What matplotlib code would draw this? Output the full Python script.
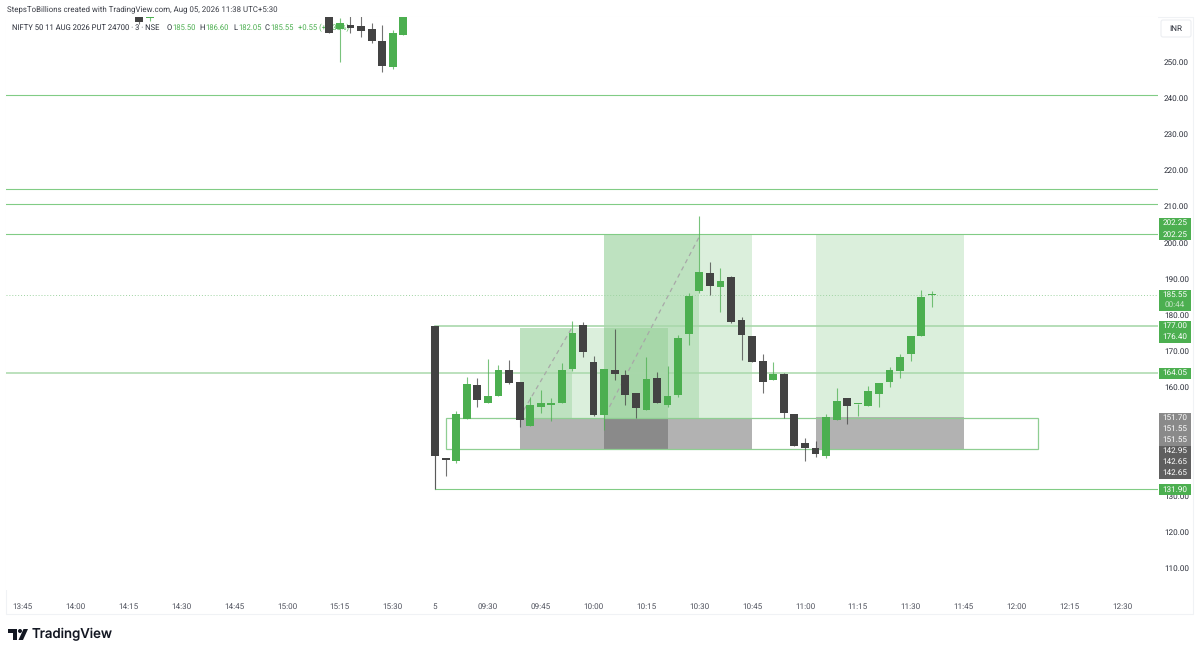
import numpy as np
import matplotlib
matplotlib.use("Agg")
import matplotlib.pyplot as plt
from matplotlib.patches import Rectangle, FancyBboxPatch, Polygon, Circle
from matplotlib.transforms import Affine2D

# ---------- data ----------
bar_index = [11, 12, 29, 30, 31, 32, 33, 34, 35, 36] + list(range(39, 87))
opens = [263.0, 262.0, 266.0, 258.9, 260.1, 259.8, 258.9, 255.75, 248.6, 257.2,
         176.94, 140.4, 139.7, 151.3, 160.7, 155.75, 157.6, 164.7, 161.5, 149.3,
         154.65, 155.2, 155.75, 165.0, 177.1, 167.0, 152.4, 164.7, 163.4, 158.4,
         153.7, 162.6, 155.2, 157.8, 174.7, 186.6, 191.5,
         187.7, 190.4, 178.6, 174.3, 167.3, 161.9, 163.7, 152.6, 144.6, 143.2,
         141.1, 151.0, 157.1, 155.3, 154.95, 158.15, 161.6, 164.5, 169.3, 174.1, 185.5]
closes = [261.0, 262.6, 258.0, 260.5, 259.2, 258.4, 255.75, 248.75, 258.0, 262.5,
          141.0, 139.9, 152.6, 160.9, 156.5, 157.5, 164.7, 161.2, 150.9, 155.1,
          155.65, 155.65, 164.9, 175.0, 169.7, 152.4, 165.05, 163.7, 157.9, 154.3,
          162.4, 155.75, 157.5, 173.7, 185.3, 191.85, 188.1,
          189.4, 178.05, 174.5, 167.1, 161.6, 163.7, 153.0, 143.9, 143.1, 141.7,
          151.9, 156.2, 154.9, 155.45, 158.9, 161.3, 164.7, 168.5, 174.3, 184.85, 185.55]
highs = [263.5, 262.8, 268.0, 262.0, 262.5, 262.5, 260.7, 260.1, 258.7, 262.5,
         177.0, 140.5, 153.5, 162.8, 162.5, 167.8, 166.2, 167.5, 161.5, 157.2,
         159.2, 157.1, 166.6, 178.4, 178.0, 168.6, 165.05, 176.1, 164.8, 158.4,
         168.3, 164.2, 165.9, 174.5, 186.0, 207.3, 194.6,
         192.9, 190.8, 179.5, 174.3, 169.2, 167.1, 163.9, 152.6, 146.1, 145.2,
         152.6, 159.9, 157.1, 155.5, 160.4, 161.3, 165.5, 169.1, 174.3, 186.8, 186.6]
lows = [260.4, 261.3, 258.0, 249.8, 257.8, 256.85, 255.0, 247.2, 247.9, 257.2,
        131.9, 135.6, 139.0, 151.3, 154.5, 155.75, 157.6, 161.0, 149.1, 149.3,
        153.0, 150.8, 155.75, 164.4, 168.5, 152.2, 148.2, 162.0, 155.0, 151.4,
        153.7, 155.75, 154.5, 157.2, 171.7, 186.0, 185.5,
        180.7, 177.9, 167.5, 167.1, 158.5, 161.9, 151.6, 143.9, 139.55, 140.85,
        140.6, 151.0, 149.9, 152.1, 154.95, 154.65, 160.2, 162.65, 167.4, 174.1, 182.05]

price_ticks = [250, 240, 230, 220, 210, 200, 190, 180, 170, 160, 130, 120, 110]
time_ticks = [0, 5, 10, 15, 20, 25, 30, 35, 39, 44, 49, 54, 59, 64, 69, 74, 79, 84, 89, 94, 99, 104]
time_labels = ['13:45', '14:00', '14:15', '14:30', '14:45', '15:00', '15:15', '15:30', '5',
               '09:30', '09:45', '10:00', '10:15', '10:30', '10:45', '11:00', '11:15',
               '11:30', '11:45', '12:00', '12:15', '12:30']

full_lines = [240.8, 214.8, 210.5, 202.25]
soft_line = 164.05
last_price = 185.55
box_top = 177.0
box_low = 131.9
range_box = (40, 96, 142.95, 151.55)
green_zones = [(47, 61, 151.55, 176.4), (47, 52, 151.55, 176.4),
               (55, 69, 151.55, 202.25), (55, 64, 151.55, 202.25),
               (75, 89, 151.7, 202.25)]
grey_zones = [(47, 61, 142.65, 151.55), (55, 69, 142.95, 151.55), (75, 89, 142.65, 151.7)]
dash_x = [(47.4, 52), (55.5, 64)]
dash_y = [(153.7, 176.7), (154.6, 201.6)]

green_tags = ['202.25', '202.25', '185.55', '00:44', '177.00', '176.40', '164.05', '131.90']
grey_tags = ['151.70', '151.55', '151.55']
dark_tags = ['142.95', '142.65', '142.65']

# ---------- style ----------
W, H = 1200, 654
GREEN = '#4caf50'
DARK = '#434343'
LINE = '#81cc85'
FS = 5.9
LFS = 5.5
plt.rcParams['font.family'] = 'Roboto'
plt.rcParams['text.hinting'] = 'no_hinting'

fig = plt.figure(figsize=(W / 100, H / 100), dpi=100, facecolor='white')
L, R, T, B = 6, 1158, 17, 590
ax = fig.add_axes([L / W, 1 - B / H, (R - L) / W, (B - T) / H])
ax.set_xlim((L - 22.8) / 10.57, (R - 22.8) / 10.57)
ax.set_ylim(250 - (B - 61.5) / 3.62, 250 - (T - 61.5) / 3.62)
for s in ax.spines.values():
    s.set_visible(False)

px = Affine2D().scale(1 / W, -1 / H).translate(0, 1) + fig.transFigure

# frame
fig.add_artist(Rectangle((6, 17), 1187, 597, transform=px, fill=False, ec='#f0f2f5', lw=0.8, zorder=-1))

# zones
for x0, x1, y0, y1 in green_zones:
    ax.add_patch(Rectangle((x0, y0), x1 - x0, y1 - y0, fc=GREEN, alpha=0.2, ec='none', zorder=1))
for x0, x1, y0, y1 in grey_zones:
    ax.add_patch(Rectangle((x0, y0), x1 - x0, y1 - y0, fc='#5f5f5f', alpha=0.48, ec='none', zorder=1))

# levels
for v in full_lines:
    ax.axhline(v, color=LINE, lw=0.8, zorder=2)
ax.axhline(soft_line, color='#a9d8ab', lw=1.1, zorder=2)
ax.axhline(last_price, color='#9fd3a2', lw=0.7, ls=(0, (1, 2)), zorder=2)
ax.plot([39, ax.get_xlim()[1]], [box_top, box_top], color='#a9d8ab', lw=1.2, zorder=2)
ax.plot([39, 39], [box_top, box_low], color='#a0a0a0', lw=0.8, zorder=2)
ax.plot([39, ax.get_xlim()[1]], [box_low, box_low], color=LINE, lw=0.8, zorder=2)
x0, x1, y0, y1 = range_box
ax.add_patch(Rectangle((x0, y0), x1 - x0, y1 - y0, fill=False, ec='#8fce92', lw=0.9, zorder=2))
for xs, ys in zip(dash_x, dash_y):
    ax.plot(xs, ys, color='#a8a8a8', lw=0.9, ls=(0, (3.5, 3)), zorder=2.2)

# candles
for i, o, h, l, c in zip(bar_index, opens, highs, lows, closes):
    col = GREEN if c >= o else DARK
    ax.vlines(i, l, h, color=col, lw=0.8, alpha=0.75, zorder=3)
    lo, hi = min(o, c), max(o, c)
    ax.add_patch(Rectangle((i - 0.37, lo), 0.74, max(hi - lo, 0.25), fc=col, ec='none', zorder=3.1))

# axes ticks
ax.yaxis.tick_right()
ax.set_yticks(price_ticks, [f'{v:.2f}' for v in price_ticks])
ax.set_xticks(time_ticks, time_labels)
ax.tick_params(axis='y', length=0, pad=4.3, labelsize=FS, labelcolor='#2a2e39')
ax.tick_params(axis='x', length=0, pad=9.0, labelsize=FS, labelcolor='#50535e')

# price tags
green_y = [223, 234.4, 295, 305, 326, 337, 373, 489.5]
green_spans = [(217.5, 240), (289.5, 310.5), (320.5, 342.5), (367.5, 378.5), (484, 495)]
for a, b in green_spans:
    ax.add_patch(Rectangle((1159, a), 32, b - a, transform=px, fc=GREEN, ec='none', clip_on=False, zorder=6))
for s, y in zip(green_tags, green_y):
    col = '#c8e6c9' if s == '00:44' else 'white'
    ax.text(1175, y, s, transform=px, color=col, fontsize=FS, ha='center', va='center', zorder=7, clip_on=False)
ax.add_patch(Rectangle((1159, 412.5), 32, 33, transform=px, fc='#8a8a8a', ec='none', clip_on=False, zorder=6))
ax.add_patch(Rectangle((1159, 445.5), 32, 33, transform=px, fc='#5f5f5f', ec='none', clip_on=False, zorder=6))
for s, y in zip(grey_tags + dark_tags, [418, 429, 440, 451, 462, 473]):
    ax.text(1175, y, s, transform=px, color='white', fontsize=FS, ha='center', va='center', zorder=7, clip_on=False)

# INR button
ax.add_patch(FancyBboxPatch((1161, 20), 30, 17, boxstyle='round,pad=0,rounding_size=2', transform=px,
                            fc='white', ec='#eceef2', lw=0.8, clip_on=False, zorder=6))
ax.text(1176, 29, 'INR', transform=px, fontsize=FS, color='#2a2e39', ha='center', va='center', zorder=7)

# header and legend
fig.text(7 / W, 1 - 9.5 / H, 'StepsToBillions created with TradingView.com, Aug 05, 2026 11:38 UTC+5:30',
         fontsize=5.65, color='#3a3d46', va='center')
legend_parts = [(12, 'NIFTY 50 11 AUG 2026 PUT 24700 · 3 · NSE', '#2a2e39'),
                (167, 'O', '#2a2e39'), (172, '185.50', GREEN),
                (199, 'H', '#2a2e39'), (205, '186.60', GREEN),
                (233, 'L', '#2a2e39'), (238, '182.05', GREEN),
                (265, 'C', '#2a2e39'), (270, '185.55', GREEN),
                (298, '+0.55 (+0.30%)', GREEN)]
for x, s, c in legend_parts:
    ax.text(x, 27.5, s, transform=px, fontsize=LFS, color=c, va='center', zorder=2.5)

# logo
logo = '#131722'
fig.add_artist(Polygon([(8, 629), (17, 629), (17, 640), (12.5, 640), (12.5, 633), (8, 633)], closed=True,
                       transform=px, fc=logo, ec='none'))
fig.add_artist(Circle((20, 631), 2, transform=px, fc=logo, ec='none'))
fig.add_artist(Polygon([(23.5, 629), (28, 629), (23, 640), (18.5, 640)], closed=True, transform=px, fc=logo, ec='none'))
fig.text(32 / W, 1 - 634 / H, 'TradingView', fontsize=9.6, color=logo, va='center', family='Inter', weight='medium')

fig.savefig('out.png', dpi=100, facecolor='white')
